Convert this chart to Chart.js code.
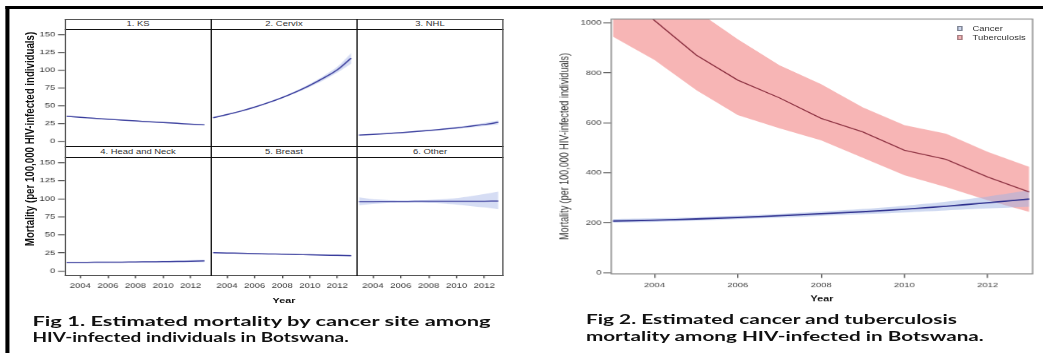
<!DOCTYPE html>
<html>
<head>
<meta charset="utf-8">
<script src="https://cdn.jsdelivr.net/npm/chart.js@4.4.1/dist/chart.umd.min.js"></script>
<style>
html,body{margin:0;padding:0;background:#fff;overflow:hidden;width:1043px;height:353px;}
#stage{position:absolute;left:0;top:0;width:772.6px;height:353px;transform:scaleX(1.35);transform-origin:0 0;font-family:'Liberation Sans',Arial,Helvetica,sans-serif;}
#stage div{white-space:nowrap;}
</style>
</head>
<body>
<div id="stage"></div>
<script>
// ================= DATA =================
const years = [2003, 2004, 2005, 2006, 2007, 2008, 2009, 2010, 2011, 2012, 2013];
const xTickValues = [2004, 2006, 2008, 2010, 2012];
const xTickLabels = ['2004', '2006', '2008', '2010', '2012'];

// Fig 1 : mortality by cancer site
const siteNames = ['1. KS', '2. Cervix', '3. NHL', '4. Head and Neck', '5. Breast', '6. Other'];
const siteTickValues = [0, 25, 50, 75, 100, 125, 150];
const siteTickLabels = ['0', '25', '50', '75', '100', '125', '150'];

const ksMid = [35, 33.6, 32.2, 30.9, 29.7, 28.5, 27.3, 26.2, 25.1, 24.0, 23.0];
const ksLo  = [34, 32.7, 31.4, 30.2, 29.0, 27.8, 26.6, 25.4, 24.3, 23.1, 21.9];
const ksHi  = [36, 34.5, 33.0, 31.6, 30.4, 29.2, 28.0, 27.0, 25.9, 24.9, 24.1];

const cervixMid = [33, 37.4, 42.3, 47.9, 54.2, 61.3, 69.4, 78.5, 88.8, 100.5, 117];
const cervixLo  = [32, 36.5, 41.4, 46.9, 53.1, 60.1, 67.8, 76.3, 85.6, 96.5, 109];
const cervixHi  = [34, 38.3, 43.3, 49.0, 55.4, 62.6, 71.0, 80.8, 92.0, 104.8, 124];

const nhlMid = [8.5, 9.5, 10.7, 12.0, 13.4, 15.0, 16.8, 18.8, 21.0, 23.5, 26.5];
const nhlLo  = [7.8, 8.8, 10.0, 11.2, 12.5, 14.0, 15.6, 17.4, 19.3, 21.3, 23.5];
const nhlHi  = [9.2, 10.2, 11.4, 12.8, 14.3, 16.0, 18.0, 20.2, 22.7, 25.7, 29.5];

const headNeckMid = [12.0, 12.1, 12.2, 12.3, 12.4, 12.6, 12.8, 13.0, 13.3, 13.6, 14.0];
const headNeckLo  = [11.3, 11.4, 11.5, 11.6, 11.7, 11.8, 11.9, 12.0, 12.1, 12.2, 12.3];
const headNeckHi  = [12.7, 12.8, 12.9, 13.0, 13.1, 13.4, 13.7, 14.1, 14.6, 15.1, 15.8];

const breastMid = [25.5, 25.0, 24.6, 24.1, 23.7, 23.3, 22.9, 22.5, 22.1, 21.7, 21.3];
const breastLo  = [24.8, 24.3, 23.9, 23.4, 23.0, 22.6, 22.1, 21.6, 21.1, 20.6, 20.1];
const breastHi  = [26.2, 25.7, 25.3, 24.8, 24.4, 24.0, 23.7, 23.4, 23.1, 22.8, 22.5];

const otherMid = [96.0, 96.2, 96.3, 96.4, 96.5, 96.5, 96.6, 96.6, 96.7, 96.7, 96.8];
const otherLo  = [91.0, 93.0, 94.0, 94.5, 94.5, 94.0, 93.5, 92.0, 90.0, 88.0, 85.5];
const otherHi  = [102.0, 99.5, 98.5, 98.0, 98.0, 98.5, 99.5, 101.0, 103.5, 106.5, 110.0];

// Fig 2 : cancer vs tuberculosis
const seriesNames = ['Cancer', 'Tuberculosis'];
const mortTickValues = [0, 200, 400, 600, 800, 1000];
const mortTickLabels = ['0', '200', '400', '600', '800', '1000'];
const tbMid = [1150, 1010, 872, 771, 700, 618, 564, 490, 454, 383, 323];
const tbLo  = [945, 852, 731, 631, 578, 530, 460, 390, 343, 290, 243];
const tbHi  = [1250, 1150, 1050, 935, 831, 755, 662, 591, 557, 484, 424];
const cancerMid = [207, 210, 215, 221, 228, 236, 244, 254, 266, 280, 295];
const cancerLo  = [200, 203, 208, 214, 220, 227, 234, 241, 249, 257, 264];
const cancerHi  = [215, 218, 222, 228, 236, 245, 255, 268, 284, 305, 330];

const yTitle = 'Mortality (per 100,000 HIV-infected individuals)';
const xTitle = 'Year';
const fig1Caption = ['Fig 1. Estimated mortality by cancer site among', 'HIV-infected individuals in Botswana.'];
const fig2Caption = ['Fig 2. Estimated cancer and tuberculosis', 'mortality among HIV-infected in Botswana.'];

// ================= LAYOUT HELPERS =================
const S = 1.35;              // horizontal stretch of the original picture
const X = v => v / S;        // screen x -> stage x
const FONT = "'Liberation Sans', Arial, Helvetica, sans-serif";
Chart.defaults.font.family = FONT;
const stage = document.getElementById('stage');
function box(css, text) {
  const d = document.createElement('div');
  d.style.cssText = 'position:absolute;' + css;
  if (text != null) d.textContent = text;
  stage.appendChild(d);
  return d;
}
const pts = arr => years.map((yr, i) => ({x: yr, y: arr[i]}));
function zeroPad(s) { s.paddingLeft = 0; s.paddingRight = 0; s.paddingTop = 0; s.paddingBottom = 0; }
function makeCanvas(left, top, width, height) {
  const w = box(`left:${left}px;top:${top}px;width:${width}px;height:${height}px;`);
  const c = document.createElement('canvas');
  w.appendChild(c);
  return c;
}

// outer frame of the figure sheet
box(`left:${X(6)}px;top:6px;width:${X(1037)}px;height:3px;background:#000;`);
box(`left:${X(6)}px;top:6px;width:${X(3)}px;height:347px;background:#000;`);

// ================= FIG 1 : PANELS =================
const sites = [
  [ksLo, ksMid, ksHi], [cervixLo, cervixMid, cervixHi], [nhlLo, nhlMid, nhlHi],
  [headNeckLo, headNeckMid, headNeckHi], [breastLo, breastMid, breastHi], [otherLo, otherMid, otherHi]
];
const colL = [65, 211, 357, 503];
const rowTop = [29, 157], rowBot = [146, 275];
const stripTop = [19, 146], stripBot = [29, 157];
const YAXW = X(65 - 34);
const XAXH = 18;

for (let r = 0; r < 2; r++) {
  for (let c = 0; c < 3; c++) {
    const k = r * 3 + c;
    const showY = c === 0, showX = r === 1;
    const left = X(colL[c]) - (showY ? YAXW : 0);
    const width = X(colL[c + 1] - colL[c]) + (showY ? YAXW : 0);
    const top = rowTop[r];
    const height = rowBot[r] - rowTop[r] + (showX ? XAXH : 0);
    const cv = makeCanvas(left, top, width, height);
    const [lo, mid, hi] = sites[k];
    new Chart(cv, {
      type: 'line',
      data: {datasets: [
        {data: pts(lo), borderWidth: 0, borderColor: 'rgba(0,0,0,0)', pointRadius: 0, fill: false, tension: 0.3, order: 2},
        {data: pts(hi), borderWidth: 0, borderColor: 'rgba(0,0,0,0)', pointRadius: 0, fill: '-1', backgroundColor: 'rgba(140,160,225,0.36)', tension: 0.3, order: 1},
        {data: pts(mid), borderWidth: 1.1, borderColor: '#3a3d9c', pointRadius: 0, fill: false, tension: 0.3, order: 0}
      ]},
      options: {
        responsive: true, maintainAspectRatio: false, animation: false, devicePixelRatio: S,
        events: [], layout: {padding: 0},
        plugins: {legend: {display: false}, tooltip: {enabled: false}},
        scales: {
          x: {
            type: 'linear', min: 2002.87, max: 2013.39, display: showX,
            afterBuildTicks: s => { s.ticks = xTickValues.map(v => ({value: v})); },
            afterFit: s => { if (s.options.display) s.height = XAXH; zeroPad(s); },
            border: {display: false},
            grid: {drawOnChartArea: false, drawTicks: true, tickLength: 3, color: '#555'},
            ticks: {autoSkip: false, maxRotation: 0, padding: 3, color: '#333', font: {size: 7},
                    callback: (v, i) => xTickLabels[i]}
          },
          y: {
            type: 'linear', min: -6, max: 157, display: showY,
            afterBuildTicks: s => { s.ticks = siteTickValues.map(v => ({value: v})); },
            afterFit: s => { if (s.options.display) s.width = YAXW; zeroPad(s); },
            border: {display: false},
            grid: {drawOnChartArea: false, drawTicks: true, tickLength: 5, color: '#555'},
            ticks: {padding: 2, color: '#333', font: {size: 7}, callback: (v, i) => siteTickLabels[i]}
          }
        }
      }
    });
  }
}
// strips
for (let r = 0; r < 2; r++) {
  for (let c = 0; c < 3; c++) {
    box(`left:${X(colL[c])}px;top:${stripTop[r]}px;width:${X(colL[c + 1] - colL[c])}px;height:${stripBot[r] - stripTop[r]}px;` +
        `background:#fff;text-align:center;font-size:7px;line-height:${stripBot[r] - stripTop[r]}px;color:#333;`, siteNames[r * 3 + c]);
  }
}
// panel borders
function hline(y, x0, x1, color, t) { box(`left:${X(x0)}px;top:${y - t / 2}px;width:${X(x1 - x0)}px;height:${t}px;background:${color};`); }
function vline(x, y0, y1, color, t) { box(`left:${X(x) - t / 2}px;top:${y0}px;width:${t}px;height:${y1 - y0}px;background:${color};`); }
hline(19, 65, 503, '#555', 1);
hline(29, 65, 503, '#111', 1);
hline(146, 65, 503, '#111', 1);
hline(157, 65, 503, '#111', 1);
hline(275, 65, 503, '#555', 1);
vline(65, 19, 275.5, '#555', 1);
vline(211, 19, 275.5, '#111', 1.15);
vline(357, 19, 275.5, '#111', 1.15);
vline(503, 19, 275.5, '#555', 1);

// shared axis titles of Fig 1
box(`left:${X(30)}px;top:139px;transform:translate(-50%,-50%) rotate(-90deg);font-size:9.7px;font-weight:bold;color:#111;`, yTitle);
box(`left:${X(284)}px;top:299.5px;transform:translate(-50%,-50%);font-size:8px;font-weight:bold;color:#111;`, xTitle);

// ================= FIG 2 =================
const cv2 = makeCanvas(X(545), 12, X(495), 293);
const frame = {
  id: 'frame',
  afterDatasetsDraw(chart) {
    const {ctx, chartArea: a} = chart;
    ctx.save();
    ctx.strokeStyle = '#8a8a8a'; ctx.lineWidth = 1;
    ctx.strokeRect(a.left, a.top, a.right - a.left, a.bottom - a.top);
    ctx.restore();
  }
};
new Chart(cv2, {
  type: 'line',
  data: {datasets: [
    {label: 'tbLo', data: pts(tbLo), borderWidth: 0, borderColor: 'rgba(0,0,0,0)', pointRadius: 0, fill: false, order: 5},
    {label: seriesNames[1], data: pts(tbHi), borderWidth: 0, borderColor: 'rgba(0,0,0,0)', pointRadius: 0, fill: '-1', backgroundColor: 'rgba(244,150,150,0.7)', order: 4},
    {label: 'caLo', data: pts(cancerLo), borderWidth: 0, borderColor: 'rgba(0,0,0,0)', pointRadius: 0, fill: false, tension: 0.3, order: 3},
    {label: seriesNames[0], data: pts(cancerHi), borderWidth: 0, borderColor: 'rgba(0,0,0,0)', pointRadius: 0, fill: '-1', backgroundColor: 'rgba(160,180,228,0.5)', tension: 0.3, order: 2},
    {label: 'tbLine', data: pts(tbMid), borderWidth: 1, borderColor: '#8c3040', pointRadius: 0, fill: false, order: 1},
    {label: 'caLine', data: pts(cancerMid), borderWidth: 1.4, borderColor: '#2d2f8e', pointRadius: 0, fill: false, tension: 0.3, order: 0}
  ]},
  plugins: [frame],
  options: {
    responsive: true, maintainAspectRatio: false, animation: false, devicePixelRatio: S,
    events: [], layout: {padding: {left: 0, right: X(7), top: 7, bottom: 0}},
    plugins: {legend: {display: false}, tooltip: {enabled: false}},
    scales: {
      x: {
        type: 'linear', min: 2002.96, max: 2013.08,
        afterBuildTicks: s => { s.ticks = xTickValues.map(v => ({value: v})); },
        afterFit: s => { s.height = 31.5; zeroPad(s); },
        border: {display: false},
        grid: {drawOnChartArea: false, drawTicks: true, tickLength: 4, color: '#666'},
        ticks: {autoSkip: false, maxRotation: 0, padding: 3, color: '#444', font: {size: 7},
                callback: (v, i) => xTickLabels[i]},
        title: {display: true, text: xTitle, color: '#111', font: {size: 8, weight: 'bold'}, padding: {top: 0, bottom: 1.7}}
      },
      y: {
        type: 'linear', min: -5, max: 1016,
        afterBuildTicks: s => { s.ticks = mortTickValues.map(v => ({value: v})); },
        afterFit: s => { s.width = X(66); zeroPad(s); },
        border: {display: false},
        grid: {drawOnChartArea: false, drawTicks: true, tickLength: X(8), color: '#666'},
        ticks: {padding: 1.2, color: '#444', font: {size: 7}, callback: (v, i) => mortTickLabels[i]},
        title: {display: true, text: yTitle, color: '#333', font: {size: 9}, padding: {top: 9.4, bottom: 0}}
      }
    }
  }
});

// legend of Fig 2 (inside plot, top right)
const legendFill = ['rgb(205,214,238)', 'rgb(246,180,182)'];
const legendEdge = ['#7d8290', '#a07c80'];
[0, 1].forEach(i => {
  const y = 26 + i * 9.2;
  box(`left:${X(956.5)}px;top:${y}px;width:${X(6.5)}px;height:5px;background:${legendFill[i]};border:0.8px solid ${legendEdge[i]};box-sizing:border-box;`);
  box(`left:${X(972.5)}px;top:${y + 2.5}px;transform:translateY(-50%);font-size:7px;color:#333;line-height:8px;`, seriesNames[i]);
});

// ================= CAPTIONS =================
const caps = [
  {text: fig1Caption[0], x: 32, top: 313.6, w: 458},
  {text: fig1Caption[1], x: 32, top: 330.3, w: 317},
  {text: fig2Caption[0], x: 585.7, top: 311.9, w: 371},
  {text: fig2Caption[1], x: 585.7, top: 329.3, w: 397.6}
];
const capEls = caps.map(c => box(`left:${X(c.x)}px;top:${c.top}px;font-family:Lato,'Open Sans',sans-serif;font-weight:bold;font-size:14px;line-height:14px;color:#111;transform-origin:0 0;`, c.text));
function fitCaps() {
  capEls.forEach((el, i) => {
    el.style.transform = 'none';
    const w = el.offsetWidth;
    if (w > 0) el.style.transform = `scaleX(${(caps[i].w / S) / w})`;
  });
}
fitCaps();
if (document.fonts && document.fonts.ready) document.fonts.ready.then(fitCaps);
</script>
</body>
</html>
